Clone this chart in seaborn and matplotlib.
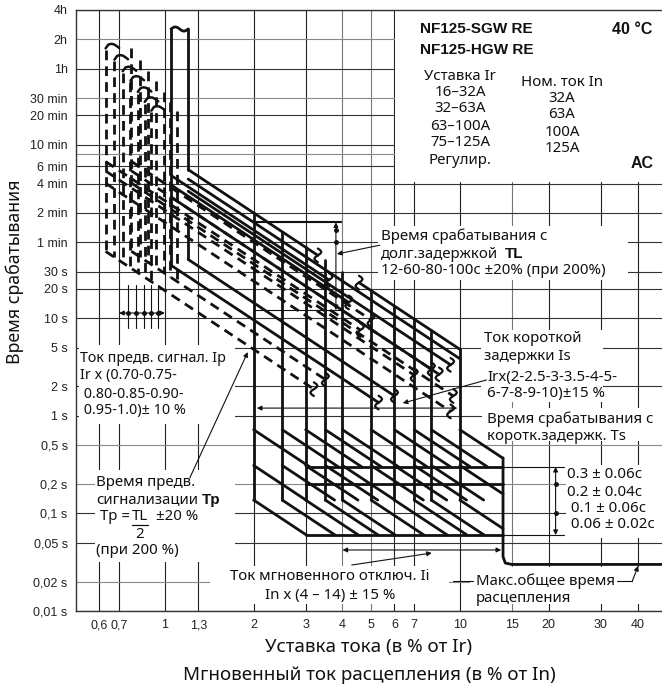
import numpy as np
import pandas as pd
import matplotlib.pyplot as plt
import seaborn as sns
from matplotlib.patches import Rectangle
from matplotlib.lines import Line2D

sns.set_style("white")
plt.rcParams['font.family'] = ['Noto Sans', 'DejaVu Sans']

W, H = 662, 688

# ---------------- axes ticks ----------------
x_ticks = [0.6, 0.7, 1, 1.3, 2, 3, 4, 5, 6, 7, 10, 15, 20, 30, 40]
x_labels = ["0,6", "0,7", "1", "1,3", "2", "3", "4", "5", "6", "7",
            "10", "15", "20", "30", "40"]
y_ticks = [0.01, 0.02, 0.05, 0.1, 0.2, 0.5, 1, 2, 5, 10, 20, 30,
           60, 120, 240, 360, 600, 1200, 1800, 3600, 7200, 14400]
y_labels = ["0,01 s", "0,02 s", "0,05 s", "0,1 s", "0,2 s", "0,5 s", "1 s",
            "2 s", "5 s", "10 s", "20 s", "30 s", "1 min", "2 min", "4 min",
            "6 min", "10 min", "20 min", "30 min", "1h", "2h", "4h"]
y_extra = [480]
grey_x = [4, 5, 15]
grey_y = [7200, 1800, 480, 0.5, 0.2, 0.02]

# ---------------- curve data ----------------
# long delay: TL at 200 % with +-20 % band; pieces (start, end current x Ir)
ld_TL = [100, 100, 100, 80, 80, 60, 60, 12, 12]
ld_f = [1.2, 1.2, 0.8, 1.2, 0.8, 1.2, 0.8, 1.2, 0.8]
ld_i0 = [1.2, 4.55, 1.05, 1.2, 1.05, 1.2, 1.05, 1.2, 1.05]
ld_i1 = [3.3, 10, 3.6, 10, 4.2, 9.3, 8.5, 6.0, 5.3]
ld_top = 9200          # top of the long delay band (s)
# pre-alarm: Tp = TL / 2 at 200 %, +-20 %
pa_TL = [100, 100, 80, 80, 60, 60, 12, 12]
pa_f = [1.2, 0.8, 1.2, 0.8, 1.2, 0.8, 1.2, 0.8]
pa_i0 = [0.77, 0.63, 0.77, 0.63, 0.77, 0.63, 0.77, 0.63]
pa_i1 = [5.0, 4.6, 8.0, 7.0, 9.5, 9.3, 3.5, 3.2]
# pre-alarm current Ip (x Ir), +-10 %, top of each band (s)
Ip = [0.70, 0.75, 0.80, 0.85, 0.90, 0.95, 1.0]
Ip_top = [6000, 4600, 3500, 2800, 2150, 1700, 1380]
# short delay pickup Is (x Ir) and time levels
Is = [2, 2.5, 3, 3.5, 4, 5, 6, 7, 8, 10]
Ts_levels = [0.3, 0.2, 0.06]
ramp_start = [0.72, 0.31, 0.137]
ramp_end = [0.3, 0.137, 0.06]
# instantaneous / max total clearing curve
tot_I = [14, 14, 14.25, 15, 48.4]
tot_t = [0.37, 0.036, 0.031, 0.03, 0.03]
Ii_max = 14

fig = plt.figure(figsize=(W / 100, H / 100), dpi=100)
ax = fig.add_axes([76 / W, 77 / H, 586 / W, 601 / H])
ax.set_xscale("log")
ax.set_yscale("log")

# ---------------- grid ----------------
for x in x_ticks:
    ax.axvline(x, color="#777" if x in grey_x else "#222", lw=0.8, zorder=1)
for y in y_ticks + y_extra:
    ax.axhline(y, color="#888" if y in grey_y else "#333", lw=0.8, zorder=1)

# white masks behind the notes (I0, I1, t0, t1)
boxes = [
    (6.03, 60, 248, 20000),
    (5.27, 37, 24.6, 88),
    (11.8, 30.5, 1.38, 7.6),
    (11.9, 60, 0.55, 1.2),
    (22.8, 60, 0.056, 0.313),
    (0.51, 1.73, 0.82, 5.3),
    (0.58, 1.73, 0.032, 0.28),
    (1.42, 9.2, 0.0118, 0.029),
    (10.8, 60, 0.0118, 0.028),
]
for x0, x1, y0, y1 in boxes:
    ax.add_patch(Rectangle((x0, y0), x1 - x0, y1 - y0, facecolor="white",
                           edgecolor="none", zorder=2))

# ---------------- solid curves ----------------
segs = []
def add(lst, xs, ys):
    lst.append(pd.DataFrame({"I": xs, "t": ys, "seg": len(lst)}))

ends = []   # line ends that get a break mark
for tl, f, i0, i1 in zip(ld_TL, ld_f, ld_i0, ld_i1):
    tt = tl * f * 4
    add(segs, [i0, i1], [tt / i0 ** 2, tt / i1 ** 2])
    if i1 < 10:
        ends.append((i1, tt / i1 ** 2))
    if i0 > 2:
        ends.append((i0, tt / i0 ** 2))
add(segs, [1.05, 1.05], [ld_top, 12 * 0.8 * 4 / 1.05 ** 2])
add(segs, [1.2, 1.2], [ld_top, 100 * 1.2 * 4 / 1.2 ** 2])
add(segs, [1.2, 1.2], [109, 12 * 1.2 * 4 / 1.2 ** 2])
for i in Is:
    add(segs, [i, i], [100 * 1.2 * 4 / i ** 2, ramp_start[2]])
    for r0, r1 in zip(ramp_start, ramp_end):
        i_end = min(i * np.sqrt(r0 / r1), Ii_max)
        add(segs, [i, i_end], [r0, r0 * (i / i_end) ** 2])
for lev in Ts_levels:
    add(segs, [3, Ii_max], [lev, lev])
add(segs, tot_I, tot_t)
solid = pd.concat(segs)
sns.lineplot(data=solid, x="I", y="t", units="seg", estimator=None, sort=False,
             color="#111", lw=2.0, ax=ax, zorder=3)

# wavy cap of the long delay band
wx = np.geomspace(1.05, 1.2, 12)
ax.plot(wx, ld_top * (1 + 0.05 * np.sin(np.linspace(0, 2 * np.pi, 12))),
        color="#111", lw=2.0, zorder=3)

# ---------------- dashed pre-alarm curves ----------------
dash = (0, (3.5, 2.2))
for p, top in zip(Ip, Ip_top):
    ax.plot([0.9 * p] * 2, [top * 0.93, 19.2 / (0.9 * p) ** 2], color="#111", lw=2.0,
            ls=dash, zorder=3)
    ax.plot([1.1 * p] * 2, [top * 0.97, 28.8 / (1.1 * p) ** 2], color="#111",
            lw=2.0, ls=dash, zorder=3)
    hx = np.geomspace(0.9 * p, 1.0 * p, 6)
    ax.plot(hx, top * np.array([0.97, 1.06, 1.08, 1.07, 1.03, 0.98]),
            color="#111", lw=1.8, zorder=3)
for tl, f, i0, i1 in zip(pa_TL, pa_f, pa_i0, pa_i1):
    tt = tl / 2 * f * 4
    ax.plot([i0, i1], [tt / i0 ** 2, tt / i1 ** 2], color="#111", lw=2.0,
            ls=dash, zorder=3)
    ends.append((i1, tt / i1 ** 2))

# break marks (small S) at interrupted line ends
s = np.linspace(-1, 1, 9)
for ie, te in ends:
    ax.plot(ie * 10 ** (0.012 * np.sin(np.pi * s)), te * 10 ** (0.07 * s),
            color="#111", lw=1.6, zorder=3)

# ---------------- dimension marks ----------------
thin = dict(color="#111", lw=0.8, zorder=3)
arr = dict(arrowstyle="<|-|>", color="#111", lw=0.8, mutation_scale=7,
           shrinkA=0, shrinkB=0)
one = dict(arrowstyle="-|>", color="#111", lw=0.8, mutation_scale=7,
           shrinkA=0, shrinkB=0)

# TL range at 200 %
for tv in [100, 96, 12.1]:
    ax.plot([2, 3.95], [tv, tv], **thin)
ax.annotate("", xy=(3.8, 96), xytext=(3.8, 12.1), arrowprops=arr, zorder=4)
ax.plot([3.8, 3.8], [60, 80], "o", ms=2.5, color="#111", zorder=4)
ax.annotate("", xy=(3.83, 45.5), xytext=(5.35, 56), arrowprops=one, zorder=4)

# Ip range
for v in [0.75, 0.8, 0.85, 0.9, 0.95]:
    ax.plot([v, v], [21.9, 7.94], **thin)
ax.annotate("", xy=(0.70, 11.3), xytext=(1.0, 11.3), arrowprops=arr, zorder=4)
ax.plot([0.75, 0.8, 0.85, 0.9, 0.95], [11.3] * 5, "o", ms=2.5, color="#111", zorder=4)

# Is range
ax.annotate("", xy=(2.05, 1.2), xytext=(9.8, 1.2), arrowprops=arr, zorder=4)
ax.annotate("", xy=(6.4, 1.35), xytext=(12.3, 2.33), arrowprops=one, zorder=4)

# Ts range
for tv in [0.3, 0.06]:
    ax.plot([Ii_max, 22.5], [tv, tv], **thin)
ax.annotate("", xy=(21.1, 0.3), xytext=(21.1, 0.06), arrowprops=arr, zorder=4)
ax.plot([21.1, 21.1], [0.2, 0.1], "o", ms=2.5, color="#111", zorder=4)

# Ii range
ax.annotate("", xy=(4.0, 0.0422), xytext=(13.8, 0.0422), arrowprops=arr, zorder=4)
ax.annotate("", xy=(8.03, 0.0393), xytext=(4.3, 0.0296), arrowprops=one, zorder=4)

# max total time leaders
ax.plot([9.47, 11.1], [0.0203, 0.0203], **thin)
ax.plot([34.0, 38.4], [0.0203, 0.0203], **thin)
ax.annotate("", xy=(40.2, 0.029), xytext=(38.4, 0.0203), arrowprops=one, zorder=4)

# Tp leader
ax.annotate("", xy=(1.91, 4.5), xytext=(1.215, 0.231), arrowprops=one, zorder=4)

# ---------------- axes cosmetics ----------------
ax.set_xlim(0.5, 48.4)
ax.set_ylim(0.01, 14400)
ax.set_xticks(x_ticks)
ax.set_xticklabels(x_labels)
ax.set_yticks(y_ticks)
ax.set_yticklabels(y_labels)
ax.minorticks_off()
ax.set_xlabel("")
ax.set_ylabel("")
ax.tick_params(length=0, labelsize=9, colors="#222", pad=6)
for lab in ax.get_xticklabels() + ax.get_yticklabels():
    lab.set_family(["Liberation Sans Narrow", "Liberation Sans"])
for sp in ["left", "bottom", "top"]:
    ax.spines[sp].set_color("#333")
    ax.spines[sp].set_linewidth(1.0)
    ax.spines[sp].set_zorder(5)
ax.spines["right"].set_visible(False)

# ---------------- texts ----------------
FS = 10.8
def ftxt(x, y, s, **kw):
    kw.setdefault("fontsize", FS)
    kw.setdefault("va", "center")
    kw.setdefault("color", "#111")
    fig.text(x / W, 1 - y / H, s, **kw)

bold = dict(family=["Liberation Sans", "DejaVu Sans"], fontweight="bold", fontsize=11)
narrow_bold = dict(family=["Liberation Sans Narrow", "Liberation Sans"],
                   fontweight="bold", fontsize=11.5)
ftxt(420, 29, "NF125-SGW RE", **bold)
ftxt(420, 50, "NF125-HGW RE", **bold)
ftxt(612, 30, "40 °C", **narrow_bold)
ftxt(460, 76, "Уставка Ir", ha="center")
for y, s_ in zip([93, 109, 126, 142, 160],
                 ["16–32A", "32–63A", "63–100A", "75–125A", "Регулир."]):
    ftxt(460, y, s_, ha="center")
ftxt(562, 82, "Ном. ток In", ha="center")
for y, s_ in zip([99, 115, 132, 148], ["32A", "63A", "100A", "125A"]):
    ftxt(562, y, s_, ha="center")
ftxt(631, 163, "AC", **narrow_bold)

ftxt(381, 236, "Время срабатывания с")
ftxt(381, 254, "долг.задержкой")
ftxt(505, 254, "TL", **bold)
ftxt(381, 271, "12-60-80-100c ±20% (при 200%)")
ftxt(484, 339, "Ток короткой")
ftxt(484, 357, "задержки Is")
ftxt(487, 377, "Irx(2-2.5-3-3.5-4-5-")
ftxt(487, 394, "6-7-8-9-10)±15 %")
ftxt(487, 419, "Время срабатывания с")
ftxt(487, 436, "коротк.задержк. Ts")
for y, s_ in zip([475, 492, 508, 524],
                 ["0.3 ± 0.06c", "0.2 ± 0.04c", " 0.1 ± 0.06c", " 0.06 ± 0.02c"]):
    ftxt(567, y, s_)
ipfs = 10.3
ftxt(80, 358, "Ток предв. сигнал. Ip", fontsize=ipfs)
ftxt(80, 376, "Ir x (0.70-0.75-", fontsize=ipfs)
ftxt(80, 394, " 0.80-0.85-0.90-", fontsize=ipfs)
ftxt(80, 411, " 0.95-1.0)± 10 %", fontsize=ipfs)
ftxt(96, 482, "Время предв.")
ftxt(96, 500, "сигнализации")
ftxt(202, 500, "Tp", **bold)
ftxt(100, 517, "Tp =")
ftxt(132, 517, "TL")
ftxt(156, 517, "±20 %")
ftxt(135, 534, "2")
fig.add_artist(Line2D([132 / W, 148 / W], [1 - 525 / H] * 2, color="#111", lw=0.9))
ftxt(96, 551, "(при 200 %)")
ftxt(330, 577, "Ток мгновенного отключ. Ii", ha="center")
ftxt(330, 595, "In x (4 – 14) ± 15 %", ha="center")
ftxt(476, 581, "Макс.общее время")
ftxt(476, 598, "расцепления")

ftxt(369, 647, "Уставка тока (в % от Ir)", ha="center", fontsize=13.5)
ftxt(369, 675, "Мгновенный ток расцепления (в % от In)", ha="center", fontsize=13.5)
ftxt(15, 272, "Время срабатывания", ha="center", rotation=90, fontsize=12.8)

fig.savefig("out.png", dpi=100)
